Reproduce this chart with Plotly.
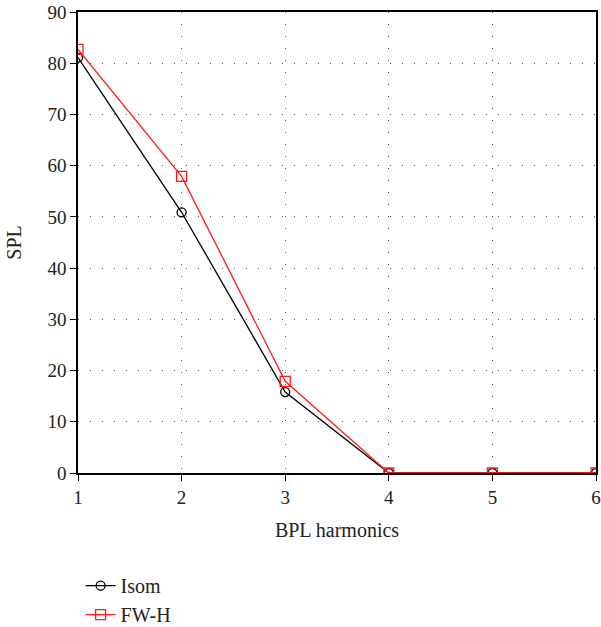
import plotly.graph_objects as go

harmonics = [1, 2, 3, 4, 5, 6]
isom = [81.1, 50.9, 15.8, 0, 0, 0]
fwh = [82.7, 57.9, 17.9, 0, 0, 0]
x_ticks = [1, 2, 3, 4, 5, 6]
y_ticks = [0, 10, 20, 30, 40, 50, 60, 70, 80, 90]

font = dict(family="Liberation Serif", size=19, color="#222")
title_font = dict(family="Liberation Serif", size=20, color="#222")

fig = go.Figure()
fig.add_trace(go.Scatter(
    x=harmonics, y=isom, name="Isom", mode="lines+markers",
    line=dict(color="black", width=1.3),
    marker=dict(symbol="circle-open", size=9, color="black", line=dict(width=1.3)),
))
fig.add_trace(go.Scatter(
    x=harmonics, y=fwh, name="FW-H", mode="lines+markers",
    line=dict(color="#ff1a1a", width=1.3),
    marker=dict(symbol="square-open", size=10, color="#ff1a1a", line=dict(width=1.3)),
))

axis_common = dict(
    showline=True, linecolor="black", linewidth=1.5, mirror=True,
    ticks="outside", ticklen=6, tickcolor="black", tickwidth=1,
    showgrid=True, gridcolor="#555", gridwidth=1, griddash="1px,11px",
    zeroline=False, tickfont=font, automargin=False,
)
fig.update_xaxes(range=[1, 6], tickvals=x_ticks, title=dict(text="BPL harmonics", font=title_font, standoff=16), **axis_common)
fig.update_yaxes(range=[0, 90], tickvals=y_ticks, title=dict(text="SPL", font=title_font, standoff=20), **axis_common)

fig.update_layout(
    width=601, height=627,
    margin=dict(l=78, r=5, t=12, b=154),
    plot_bgcolor="white", paper_bgcolor="white",
    font=font,
    showlegend=True,
    legend=dict(x=0.005, y=0.097, xanchor="left", yanchor="top", yref="container", font=title_font,
                bgcolor="rgba(0,0,0,0)", tracegroupgap=0, itemwidth=30),
)
fig.write_html("out.html", config={"displayModeBar": False},
               post_script="document.body.style.margin='0';")
